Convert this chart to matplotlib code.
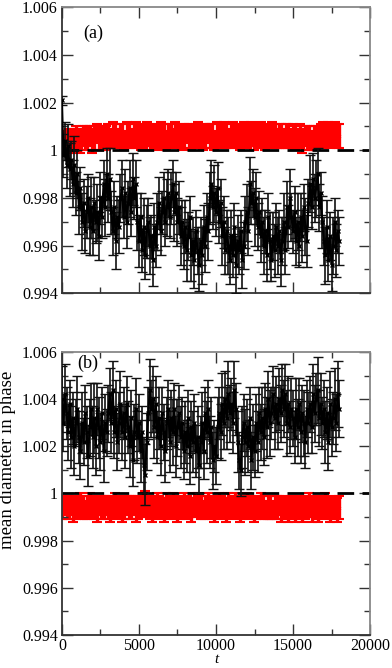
import numpy as np
import matplotlib
matplotlib.use("Agg")
import matplotlib.pyplot as plt
from matplotlib.ticker import MultipleLocator, FuncFormatter

plt.rcParams['font.family'] = ['Liberation Serif', 'DejaVu Serif']

# ---------------------------------------------------------------------
# sampling times
t_blk = np.arange(0, 18001, 100)
t_red = np.arange(0, 18001, 150)

# values are offsets from 1 in units of 1e-4
black_a = [21, -2, 4, -6, 2, -8, -4, -14, -6, -18,
           -10, -24, -16, -30, -22, -34, -26, -20, -32, -24,
           -34, -22, -30, -26, -36, -20, -28, -14, -24, -10,
           -20, -12, -26, -34, -24, -38, -28, -32, -20, -16,
           -28, -18, -30, -22, -16, -26, -12, -20, -14, -30,
           -38, -28, -42, -32, -44, -34, -30, -40, -36, -46,
           -32, -40, -30, -22, -34, -26, -20, -30, -24, -18,
           -28, -20, -14, -26, -18, -30, -24, -36, -30, -40,
           -32, -42, -36, -28, -44, -38, -46, -34, -42, -48,
           -38, -44, -32, -40, -28, -34, -20, -14, -24, -18,
           -26, -16, -30, -22, -36, -30, -42, -34, -40, -46,
           -36, -44, -32, -48, -38, -42, -34, -46, -40, -30,
           -26, -34, -14, -22, -18, -28, -20, -32, -26, -36,
           -30, -40, -34, -44, -28, -38, -46, -36, -42, -32,
           -40, -34, -46, -38, -30, -42, -24, -32, -20, -28,
           -34, -26, -38, -30, -40, -28, -36, -24, -32, -38,
           -22, -14, -24, -12, -20, -16, -10, -24, -18, -30,
           -38, -44, -32, -46, -36, -48, -40, -30, -42, -34,
           -38]
err_black_a = [2, 9, 8, 10, 9, 11, 8, 10, 12, 9,
               10, 11, 9, 12, 10, 9, 11, 10, 12, 13,
               10, 11, 9, 12, 10, 11, 9, 10, 12, 11,
               10, 13, 9, 10, 11, 12, 9, 11, 10, 12,
               9, 10, 11, 9, 12, 10, 11, 9, 10, 12,
               11, 10, 9, 12, 10, 11, 10, 12, 9, 11,
               10, 9, 12, 11, 10, 9, 11, 10, 12, 10,
               9, 11, 10, 12, 9, 10, 11, 12, 9, 10,
               11, 13, 10, 9, 11, 10, 12, 9, 10, 11,
               10, 12, 9, 11, 10, 12, 11, 10, 9, 12,
               10, 11, 9, 10, 12, 11, 10, 9, 12, 10,
               11, 9, 10, 12, 11, 10, 9, 12, 10, 11,
               12, 10, 11, 9, 10, 12, 11, 10, 9, 11,
               10, 12, 9, 11, 10, 12, 9, 10, 11, 10,
               12, 9, 11, 10, 12, 10, 11, 9, 12, 10,
               9, 11, 10, 12, 9, 10, 11, 10, 12, 11,
               10, 12, 9, 11, 10, 12, 11, 10, 9, 11,
               10, 12, 11, 9, 10, 11, 12, 10, 11, 9,
               10]

red_a = [2, 3, 4, 4, 5, 4, 5, 5, 4, 6, 5, 5, 6, 4, 5, 7, 5, 5, 6, 5,
         6, 5, 7, 6, 5, 6, 6, 4, 7, 6, 5, 6, 7, 6, 5, 6, 6, 7, 5, 6,
         6, 5, 6, 7, 6, 4, 6, 6, 5, 7, 6, 6, 5, 6, 7, 6, 5, 6, 6, 7,
         6, 5, 6, 7, 6, 6, 4, 7, 6, 6, 7, 6, 5, 6, 7, 6, 6, 5, 6, 7,
         6, 6, 7, 5, 6, 6, 7, 6, 5, 6, 6, 7, 6, 5, 6, 6, 5, 6, 6, 5,
         6, 5, 5, 6, 4, 6, 5, 5, 4, 5, 5, 6, 6, 7, 6, 7, 6, 6, 7, 6, 6]
err_red_a = [4, 5, 4, 5, 4, 5, 5, 4, 5, 4, 5, 5, 4, 5, 5, 4, 5, 5, 4, 5,
             5, 4, 5, 5, 4, 5, 5, 4, 5, 5, 4, 5, 5, 4, 5, 5, 4, 5, 5, 4,
             5, 5, 4, 5, 5, 4, 5, 5, 4, 5, 5, 4, 5, 5, 4, 5, 5, 4, 5, 5,
             4, 5, 5, 4, 5, 5, 4, 5, 5, 4, 5, 5, 4, 5, 5, 4, 5, 5, 4, 5,
             5, 4, 5, 5, 4, 5, 5, 4, 5, 5, 4, 5, 5, 4, 5, 5, 4, 5, 5, 4,
             5, 5, 4, 5, 5, 4, 5, 5, 4, 5, 5, 4, 5, 5, 4, 5, 5, 4, 5, 5, 5]

black_b = [40, 30, 42, 34, 26, 38, 24, 32, 20, 30,
           36, 24, 18, 30, 22, 34, 26, 16, 28, 36,
           24, 32, 20, 36, 28, 22, 34, 18, 30, 26,
           34, 42, 30, 44, 26, 36, 22, 30, 38, 26,
           34, 24, 38, 28, 20, 32, 14, 26, 36, 24,
           30, 18, 26, 12, 8, 22, 34, 44, 36, 40,
           28, 38, 24, 32, 20, 34, 26, 18, 30, 36,
           22, 32, 26, 36, 20, 28, 34, 24, 30, 18,
           26, 20, 32, 16, 28, 22, 30, 18, 24, 12,
           22, 30, 18, 34, 26, 36, 22, 28, 14, 20,
           16, 28, 34, 26, 38, 30, 40, 32, 42, 34,
           38, 30, 44, 36, 22, 14, 10, 24, 30, 22,
           28, 20, 32, 14, 24, 18, 30, 22, 34, 26,
           32, 24, 36, 28, 40, 30, 34, 42, 32, 38,
           30, 40, 34, 44, 36, 42, 30, 38, 28, 36,
           32, 24, 36, 28, 38, 26, 34, 30, 22, 36,
           30, 38, 28, 42, 34, 40, 44, 32, 38, 30,
           36, 26, 34, 22, 38, 28, 32, 40, 30, 42,
           36]
err_black_b = [14, 12, 13, 11, 12, 10, 13, 11, 12, 10,
               14, 11, 12, 13, 10, 12, 11, 13, 12, 11,
               13, 15, 12, 11, 13, 12, 11, 13, 12, 10,
               12, 11, 13, 12, 11, 12, 12, 13, 14, 12,
               11, 13, 12, 11, 13, 12, 11, 12, 13, 11,
               12, 13, 11, 12, 13, 12, 11, 13, 12, 14,
               13, 12, 11, 13, 12, 11, 12, 13, 11, 12,
               13, 12, 14, 11, 13, 12, 12, 13, 11, 12,
               13, 11, 12, 12, 11, 13, 12, 11, 13, 12,
               11, 13, 12, 11, 13, 12, 11, 13, 12, 11,
               12, 13, 11, 12, 13, 11, 12, 13, 14, 12,
               11, 13, 12, 11, 13, 12, 11, 13, 12, 14,
               12, 11, 13, 12, 14, 11, 12, 13, 11, 12,
               13, 12, 11, 13, 12, 14, 11, 12, 13, 12,
               11, 13, 12, 11, 12, 13, 14, 12, 11, 13,
               12, 11, 13, 12, 11, 13, 12, 14, 11, 12,
               13, 12, 11, 13, 12, 11, 14, 12, 13, 11,
               12, 13, 11, 12, 14, 12, 11, 13, 12, 14,
               12]

red_b = [-6, -5, -6, -6, -5, -7, -6, -6, -5, -6, -7, -6, -5, -6, -6, -7, -5, -6, -6, -5,
         -6, -7, -6, -5, -6, -6, -7, -6, -5, -6, -6, -5, -7, -6, -6, -5, -4, -6, -6, -7,
         -6, -5, -6, -6, -7, -5, -6, -6, -5, -6, -7, -6, -6, -5, -6, -6, -7, -5, -6, -5,
         -6, -7, -6, -5, -6, -6, -7, -6, -5, -6, -6, -7, -5, -6, -6, -5, -6, -7, -6, -6,
         -5, -6, -6, -7, -6, -6, -5, -6, -7, -6, -6, -7, -6, -6, -5, -7, -6, -6, -7, -6,
         -6, -7, -6, -6, -7, -6, -6, -5, -7, -6, -6, -7, -6, -6, -5, -6, -7, -6, -6, -7, -6]
err_red_b = [5, 4, 5, 5, 4, 5, 5, 4, 5, 5, 4, 5, 5, 4, 5, 5, 4, 5, 5, 4,
             5, 5, 4, 5, 5, 4, 5, 5, 4, 5, 5, 4, 5, 5, 4, 5, 5, 4, 5, 5,
             4, 5, 5, 4, 5, 5, 4, 5, 5, 4, 5, 5, 4, 5, 5, 4, 5, 5, 4, 5,
             5, 4, 5, 5, 4, 5, 5, 4, 5, 5, 4, 5, 5, 4, 5, 5, 4, 5, 5, 4,
             5, 5, 4, 5, 5, 4, 5, 5, 4, 5, 5, 4, 5, 5, 4, 5, 5, 4, 5, 5,
             4, 5, 5, 4, 5, 5, 4, 5, 5, 4, 5, 5, 4, 5, 5, 4, 5, 5, 4, 5, 5]

scale = 1e-4
# ---------------------------------------------------------------------

fig = plt.figure(figsize=(3.92, 6.68), dpi=100)
axA = fig.add_axes([0.158, 0.561, 0.786, 0.428])
axB = fig.add_axes([0.158, 0.0494, 0.786, 0.4237])


def panel(ax, black, eblack, red, ered, tag, tagpos):
    yb = 1 + np.array(black) * scale
    yr = 1 + np.array(red) * scale
    ax.errorbar(t_red, yr, yerr=np.array(ered) * scale, color='red', ecolor='red',
                lw=1.5, elinewidth=2.4, capsize=3.5, capthick=1.5, marker='x',
                ms=2, zorder=1)
    ax.plot([0, 20000], [1, 1], color='black', lw=2, dashes=(6, 3), zorder=2)
    ax.errorbar(t_blk, yb, yerr=np.array(eblack) * scale, color='black',
                ecolor='#111111', lw=1.5, elinewidth=1.2, capsize=3.5, capthick=1,
                marker='x', ms=2.5, zorder=3)

    ax.set_xlim(0, 20000)
    ax.set_ylim(0.994, 1.006)
    ax.xaxis.set_major_locator(MultipleLocator(5000))
    ax.xaxis.set_minor_locator(MultipleLocator(2500))
    ax.yaxis.set_major_locator(MultipleLocator(0.002))
    ax.yaxis.set_minor_locator(MultipleLocator(0.001))
    ax.yaxis.set_major_formatter(FuncFormatter(lambda v, p: '%g' % round(v, 4)))
    ax.xaxis.set_major_formatter(FuncFormatter(lambda v, p: '%g' % v))
    ax.tick_params(which='both', direction='in', top=True, right=True,
                   labelsize=11.5, pad=3, width=1, color='#333333')
    ax.tick_params(axis='x', pad=2)
    ax.tick_params(which='major', length=8)
    ax.tick_params(which='minor', length=4)
    for s in ['left', 'bottom']:
        ax.spines[s].set_color('#333333')
        ax.spines[s].set_linewidth(1.3)
    for s in ['right', 'top']:
        ax.spines[s].set_color('#888888')
        ax.spines[s].set_linewidth(1.3)
    ax.text(tagpos[0], tagpos[1], tag, transform=ax.transAxes, fontsize=13,
            va='center', ha='left', zorder=5)


panel(axA, black_a, err_black_a, red_a, err_red_a, '(a)', (0.07, 0.91))
panel(axB, black_b, err_black_b, red_b, err_red_b, '(b)', (0.05, 0.96))

axA.tick_params(labelbottom=False)
axB.set_ylabel('mean diameter in phase', fontsize=13.5)
axB.yaxis.set_label_coords(-0.148, 0.62)
axB.set_xlabel('t', fontsize=11, style='italic')
axB.xaxis.set_label_coords(0.5, -0.064)

fig.savefig('out.png', dpi=100)
